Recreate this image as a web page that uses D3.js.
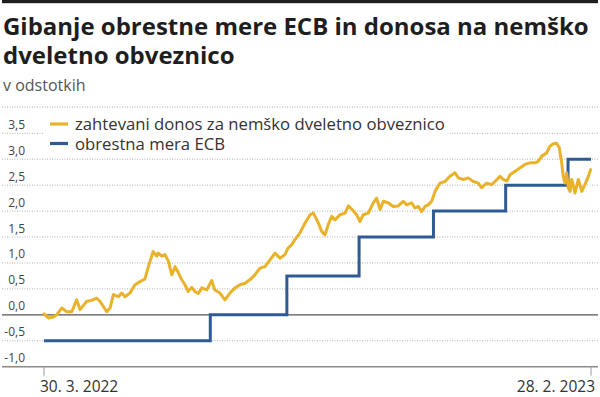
<!DOCTYPE html>
<html>
<head>
<meta charset="utf-8">
<script src="https://cdn.jsdelivr.net/npm/d3@7"></script>
<style>
  body { margin: 0; background: #fff; }
</style>
</head>
<body>
<script>
// Yield of the German 2-year bond: [trading day, percent]
const yieldSeries = [
  [0, 0.02], [2, -0.06], [4.3, -0.04], [5.8, 0.0], [8.1, 0.13], [10.4, 0.06], [12.7, 0.06],
  [14.9, 0.29], [16.5, 0.1], [19.5, 0.26], [21.8, 0.28], [24.1, 0.32], [25.6, 0.26], [28.7, 0.06],
  [30.2, 0.13], [31.7, 0.39], [34, 0.35], [35.5, 0.42], [37, 0.35], [39.3, 0.42], [41.6, 0.58],
  [43.9, 0.64], [46.1, 0.69], [47.7, 0.93], [49.9, 1.22], [51.5, 1.13], [52.2, 1.19], [53.8, 1.13],
  [55.3, 1.16], [56.8, 1.04], [58.4, 0.77], [59.9, 0.93], [61.4, 0.81], [62.9, 0.68], [64.4, 0.58],
  [65.9, 0.45], [67.5, 0.53], [69, 0.45], [70.5, 0.41], [72.1, 0.52], [74.4, 0.48], [76.6, 0.66],
  [78.1, 0.48], [80.4, 0.42], [82.7, 0.29], [85, 0.42], [87.3, 0.52], [89.6, 0.58], [91.9, 0.61],
  [94.2, 0.68], [96.4, 0.77], [98.7, 0.9], [101, 0.93], [103.3, 1.06], [105.6, 1.19], [107.9, 1.09],
  [110.1, 1.16], [111.6, 1.29], [113.2, 1.35], [114.7, 1.45], [117, 1.58], [119.3, 1.77], [121.6, 1.93],
  [123.1, 1.96], [125.4, 1.77], [126.9, 1.61], [128.4, 1.54], [129.9, 1.74], [131.5, 1.9], [133, 1.83],
  [135.3, 1.93], [137.6, 1.96], [139.1, 2.1], [140.6, 2.04], [142.9, 1.93], [144.4, 1.8], [145.9, 1.93],
  [148.2, 1.96], [150.5, 2.16], [152, 2.25], [153.6, 2.03], [155.1, 2.19], [157.3, 2.16], [159.6, 2.09],
  [161.9, 2.1], [164.2, 2.19], [165.8, 2.12], [168, 2.16], [169.5, 2.06], [171.1, 2.09], [172.6, 1.99],
  [174.1, 2.09], [175.6, 2.12], [177.2, 2.19], [178.7, 2.38], [181, 2.54], [183.3, 2.57], [185.5, 2.67],
  [187.8, 2.74], [189.4, 2.64], [191.6, 2.61], [193.9, 2.64], [196.2, 2.57], [198.5, 2.54], [200, 2.45],
  [202.3, 2.54], [204.6, 2.51], [206.1, 2.57], [208.4, 2.67], [209.9, 2.61], [211.5, 2.58], [213, 2.7],
  [215.3, 2.77], [217.5, 2.83], [219.8, 2.9], [222.1, 2.93], [224.4, 2.93], [225.9, 2.96], [227.5, 3.06],
  [229.7, 3.12], [231.2, 3.25], [232.8, 3.3], [234.3, 3.31], [235.5, 3.22], [236.6, 2.93], [237.3, 2.67],
  [238.1, 2.54], [238.9, 2.74], [239.6, 2.45], [240.4, 2.38], [241.2, 2.61], [242.7, 2.35], [244.2, 2.61],
  [245.8, 2.38], [247.2, 2.51], [248.8, 2.67], [249.8, 2.8],
]

// ECB rate: [trading day from which it applies, percent]
const ecbSteps = [
  [0, -0.5], [76, 0], [111, 0.75], [144, 1.5], [178, 2], [211, 2.5], [239.5, 3], [250, 3],
]

const yTicks = [-1, -0.5, 0, 0.5, 1, 1.5, 2, 2.5, 3, 3.5]
const xTickDays = [0, 250]
const xTickLabels = ['30. 3. 2022', '28. 2. 2023']

const seriesNames = ['zahtevani donos za nemško dveletno obveznico', 'obrestna mera ECB']
const seriesColors = ['#e9b22a', '#2e5b96']

const W = 600
const H = 397
const font = "'Open Sans', 'Noto Sans', sans-serif"

const svg = d3.select('body')
  .append('svg')
  .attr('width', W)
  .attr('height', H)
  .attr('viewBox', `0 0 ${W} ${H}`)

svg.append('rect').attr('width', W).attr('height', H).attr('fill', '#fff')

// Top rule
svg.append('rect')
  .attr('x', 2).attr('y', 0)
  .attr('width', W - 4).attr('height', 3.2)
  .attr('fill', '#1e1e1e')

// Title, fitted to the reference width
const titleLines = ['Gibanje obrestne mere ECB in donosa na nemško', 'dveletno obveznico']
const titleG = svg.append('g')
const titleTexts = titleLines.map((line, i) => titleG.append('text')
  .attr('x', 3)
  .attr('y', 35 + i * 28.5)
  .style('font-family', font)
  .style('font-size', '24px')
  .style('font-weight', 700)
  .style('fill', '#1e1e1e')
  .text(line))
const tw = titleTexts[0].node().getComputedTextLength()
const titleSize = 24 * 586 / tw
titleTexts.forEach(t => t.style('font-size', `${titleSize}px`))

svg.append('text')
  .attr('x', 3).attr('y', 91)
  .style('font-family', font)
  .style('font-size', '16px')
  .style('fill', '#555')
  .text('v odstotkih')

// Dotted separator under subtitle
svg.append('line')
  .attr('x1', 2).attr('x2', W - 2)
  .attr('y1', 107).attr('y2', 107)
  .attr('stroke', '#aaa')
  .attr('stroke-dasharray', '1,1.5')

// Scales
const x = d3.scaleLinear().domain([0, 250]).range([44, 591])
const y = d3.scaleLinear().domain([-1, 3.5]).range([366.7, 133.3])
const fmt = v => d3.format('.1f')(v).replace('.', ',').replace('−', '-')

// Grid lines
yTicks.forEach(v => {
  const solid = v === 0 || v === -1
  svg.append('line')
    .attr('x1', 2).attr('x2', W - 2)
    .attr('y1', y(v)).attr('y2', y(v))
    .attr('stroke', v === 0 ? '#555' : v === -1 ? '#8a8a8a' : '#b0b0b0')
    .attr('stroke-width', solid ? 1.4 : 1)
    .attr('stroke-dasharray', solid ? null : '1,1.5')

  svg.append('text')
    .attr('x', 25)
    .attr('y', y(v) - 4.5)
    .attr('text-anchor', 'end')
    .style('font-family', font)
    .style('font-size', '12px')
    .style('fill', '#444')
    .text(fmt(v))
})

// X ticks
xTickDays.forEach((d, i) => {
  svg.append('line')
    .attr('x1', x(d)).attr('x2', x(d))
    .attr('y1', y(-1)).attr('y2', y(-1) + 9)
    .attr('stroke', '#999')

  svg.append('text')
    .attr('x', i === 0 ? x(d) - 4 : x(d) + 4)
    .attr('y', 392)
    .attr('text-anchor', i === 0 ? 'start' : 'end')
    .style('font-family', font)
    .style('font-size', '15.5px')
    .style('fill', '#333')
    .text(xTickLabels[i])
})

// Legend box hides the top grid line behind it
const legend = svg.append('g')
legend.append('rect')
  .attr('x', 44).attr('y', 113)
  .attr('width', 404).attr('height', 40)
  .attr('fill', '#fff')

const legendTexts = seriesNames.map((name, i) => {
  const ly = 124 + i * 19.5
  legend.append('line')
    .attr('x1', 50).attr('x2', 68)
    .attr('y1', ly).attr('y2', ly)
    .attr('stroke', seriesColors[i])
    .attr('stroke-width', 3.2)
  return legend.append('text')
    .attr('x', 75).attr('y', ly + 6)
    .style('font-family', font)
    .style('font-size', '15px')
    .style('fill', '#333')
    .text(name)
})
const lw = legendTexts[0].node().getComputedTextLength()
const legendSize = 15 * 370 / lw
legendTexts.forEach(t => t.style('font-size', `${legendSize}px`))

// ECB rate
const ecbLine = d3.line()
  .x(d => x(d[0]))
  .y(d => y(d[1]))
  .curve(d3.curveStepAfter)

svg.append('path')
  .datum(ecbSteps)
  .attr('d', ecbLine)
  .attr('fill', 'none')
  .attr('stroke', seriesColors[1])
  .attr('stroke-width', 3)

// Bond yield
const yieldLine = d3.line()
  .x(d => x(d[0]))
  .y(d => y(d[1]))
  .curve(d3.curveLinear)

svg.append('path')
  .datum(yieldSeries)
  .attr('d', yieldLine)
  .attr('fill', 'none')
  .attr('stroke', seriesColors[0])
  .attr('stroke-width', 3)
  .attr('stroke-linejoin', 'round')
  .attr('stroke-linecap', 'round')
</script>
</body>
</html>
